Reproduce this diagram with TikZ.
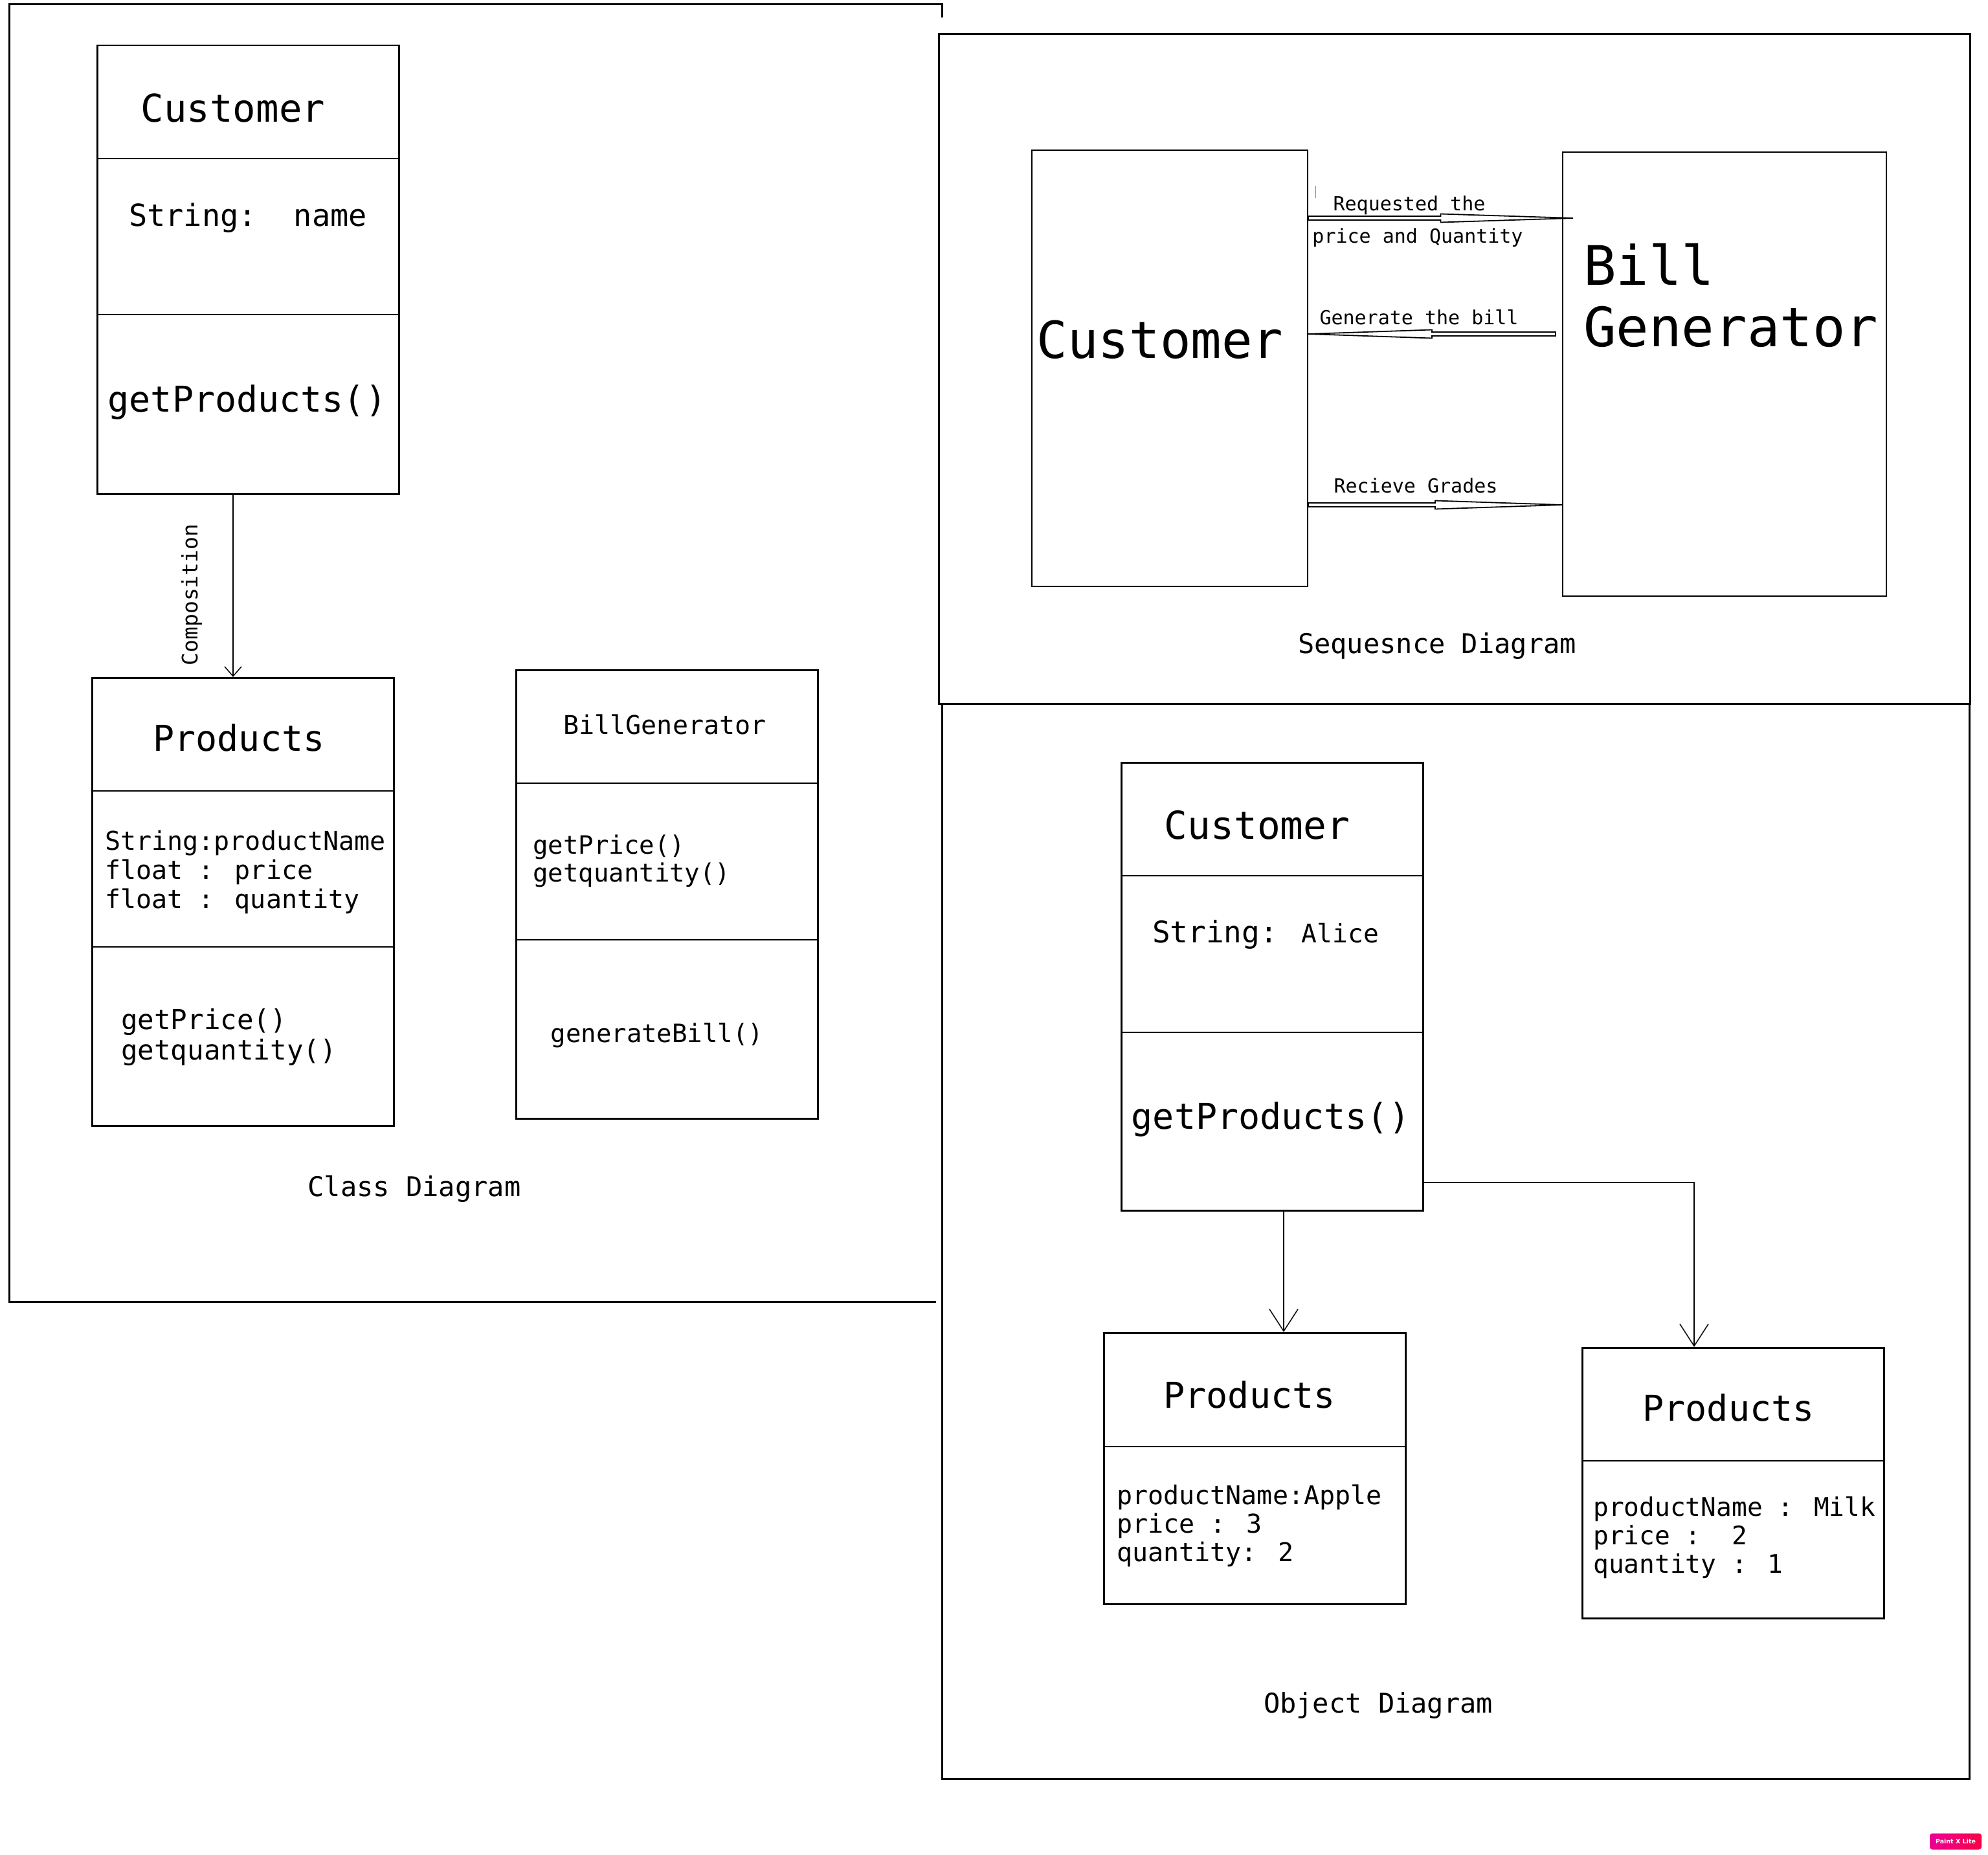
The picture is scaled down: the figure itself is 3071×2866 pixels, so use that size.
\documentclass[tikz,border=0pt]{standalone}
\usepackage{fontspec}
\setmainfont{DejaVu Sans Mono}
\newfontfamily\badgefont{DejaVu Sans}
\usetikzlibrary{arrows.meta,calc}

\definecolor{pxpink}{RGB}{236,0,150}
\definecolor{pxred}{RGB}{250,0,70}
\newcommand{\fs}[2]{\fontsize{#1}{#2}\selectfont}

\begin{document}
\begin{tikzpicture}[x=1pt,y=-1pt,
    frame/.style={line width=3pt},
    box/.style={draw,line width=2.5pt,anchor=north west,inner sep=0pt},
    divider/.style={line width=2pt},
    txt/.style={inner sep=0pt},
    lst/.style={inner sep=0pt,anchor=west,align=left},
    comp/.style={line width=1.5pt,-{Straight Barb[length=15pt,width=26pt]}},
    link/.style={line width=1.5pt,-{Straight Barb[length=34pt,width=44pt]}},
    msg/.style={line width=1.8pt,fill=white}]

    \fill[white] (0,0) rectangle (3071,2866);
    \useasboundingbox (0,0) rectangle (3071,2866);

    % frames
    \draw[frame] (1455,27) -- (1455,7) -- (14,7) -- (14,2011) -- (1446,2011);
    \draw[frame] (1450,53) rectangle (3043,1087);
    \draw[frame] (1455,1087) -- (1455,2748) -- (3042,2748) -- (3042,1087);

    % class diagram
    \foreach \n/\x/\y/\h in {ccust/149/69/693,cprod/141/1046/692,cbill/796/1034/693}
        \node[box,minimum width=466pt,minimum height=\h pt] (\n) at (\x,\y) {};
    \foreach \n/\y in {ccust/245,ccust/486,cprod/1222,cprod/1463,cbill/1210,cbill/1452}
        \draw[divider] (\n.west |- 0,\y) -- (\n.east |- 0,\y);

    \node[txt,font=\fs{59}{65}] (ccustname) at (360,167) {Customer};
    \node[txt,font=\fs{47}{52}] (ccustattr) at (383,337) {String:\ \ name};
    \node[txt,font=\fs{55}{60}] (ccustmeth) at (382,622) {getProducts()};
    \node[txt,font=\fs{55}{60}] (cprodname) at (369,1140) {Products};
    \node[lst,font=\fs{40}{45}] (cprodattr) at (162,1347) {String:productName\\float : price\\float : quantity};
    \node[lst,font=\fs{42.5}{47}] (cprodmeth) at (187,1602) {getPrice()\\getquantity()};
    \node[txt,font=\fs{40}{44}] (cbillname) at (1027,1119) {BillGenerator};
    \node[lst,font=\fs{39}{43}] (cbillattr) at (823,1330) {getPrice()\\getquantity()};
    \node[txt,font=\fs{39}{43}] (cbillmeth) at (1015,1600) {generateBill()};
    \node[txt,font=\fs{42}{46}] (classcap) at (640,1837) {Class Diagram};

    \draw[comp] (ccust.south -| 360,0) -- (cprod.north -| 360,0);
    \node[txt,rotate=90,font=\fs{33}{36}] (complabel) at (296,919) {Composition};

    % sequence diagram
    \node[box,line width=2pt,minimum width=426pt,minimum height=674pt] (scust) at (1593,231) {};
    \node[box,line width=2pt,minimum width=500pt,minimum height=686pt] (sbill) at (2413,234) {};
    \node[txt,font=\fs{79}{87}] (scustname) at (1792,525) {Customer};
    \node[lst,font=\fs{84}{95}] (sbillname) at (2446,456) {Bill\\Generator};

    \coordinate (m1s) at (scust.east |- 0,337);
    \coordinate (m1e) at (2430,337);
    \coordinate (m2s) at (2403,516);
    \coordinate (m2e) at (scust.east |- 0,516);
    \coordinate (m3s) at (scust.east |- 0,780);
    \coordinate (m3e) at (sbill.west |- 0,780);
    \foreach \s/\e in {m1s/m1e,m2s/m2e,m3s/m3e}
        \draw[msg] ($(\s)+(0,-3)$) -- ($(\s)!0.5!(\e)+(0,-3)$) -- ($(\s)!0.5!(\e)+(0,-6.5)$)
            -- (\e) -- ($(\s)!0.5!(\e)+(0,6.5)$) -- ($(\s)!0.5!(\e)+(0,3)$) -- ($(\s)+(0,3)$) -- cycle;
    \draw[gray,line width=1pt] (2032,287) -- (2032,306);

    \node[txt,font=\fs{30}{33}] (m1a) at (2177,317) {Requested the};
    \node[txt,font=\fs{30}{33}] (m1b) at (2190,367) {price and Quantity};
    \node[txt,font=\fs{30}{33}] (m2l) at (2192,490) {Generate the bill};
    \node[txt,font=\fs{30}{33}] (m3l) at (2187,750) {Recieve Grades};
    \node[txt,font=\fs{42}{46}] (seqcap) at (2220,998) {Sequesnce Diagram};

    % object diagram
    \foreach \n/\x/\y/\h in {ocust/1731/1177/692,oprod1/1704/2058/419,oprod2/2443/2081/418}
        \node[box,minimum width=466pt,minimum height=\h pt] (\n) at (\x,\y) {};
    \foreach \n/\y in {ocust/1353,ocust/1595,oprod1/2235,oprod2/2257}
        \draw[divider] (\n.west |- 0,\y) -- (\n.east |- 0,\y);

    \node[txt,font=\fs{59.5}{65}] (ocustname) at (1942,1275) {Customer};
    \node[txt,font=\fs{46}{50}] (ocustattr) at (1955,1444) {String: {\fs{39.5}{44}Alice}};
    \node[txt,font=\fs{55}{60}] (ocustmeth) at (1963,1729) {getProducts()};
    \node[txt,font=\fs{55}{60}] (oprod1name) at (1930,2155) {Products};
    \node[lst,font=\fs{40}{44}] (oprod1attr) at (1725,2357) {productName:Apple\\price : 3\\quantity: 2};
    \node[txt,font=\fs{55}{60}] (oprod2name) at (2670,2175) {Products};
    \node[lst,font=\fs{39.5}{44}] (oprod2attr) at (2461,2376) {productName : Milk\\price :\ \ 2\\quantity : 1};
    \node[txt,font=\fs{42}{46}] (objcap) at (2129,2635) {Object Diagram};

    \draw[link] (ocust.south -| 1983,0) -- (oprod1.north -| 1983,0);
    \coordinate (obend) at (2617,1827);
    \draw[link] (ocust.east |- obend) -- (obend) -- (obend |- oprod2.north);

    % watermark
    \node[rounded corners=4pt,left color=pxpink,right color=pxred,text=white,inner sep=0pt,
        minimum width=80pt,minimum height=25pt,font=\badgefont\bfseries\fs{9.5}{10}] (paintx) at (3021,2845) {Paint X Lite};
\end{tikzpicture}
\end{document}
